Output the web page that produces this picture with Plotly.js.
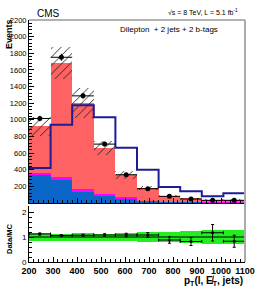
<!DOCTYPE html>
<html>
<head>
<meta charset="utf-8">
<script src="https://cdn.plot.ly/plotly-3.0.1.min.js"></script>
<style>html,body{margin:0;padding:0;background:#fff;}#chart{width:258px;height:290px;}</style>
</head>
<body>
<div id="chart"></div>
<script>
// ---- data ----
const binEdges = [200, 290, 380, 470, 560, 650, 740, 830, 920, 1010, 1100];
const bkgBlue    = [336, 280, 132, 85, 50, 22, 12, 8, 6, 6];
const bkgMagenta = [22, 32, 38, 22, 20, 8, 5, 4, 3, 3];
const bkgRed     = [566, 1368, 1030, 553, 270, 150, 71, 44, 31, 29];
const mcUnc      = [115, 190, 180, 80, 50, 25, 12, 8, 6, 6];
const signalLine = [420, 940, 1175, 1032, 665, 400, 192, 140, 80, 116];
const dataVals   = [1016, 1752, 1288, 708, 340, 172, 80, 48, 32, 32];
const dataErr    = [32, 42, 36, 27, 18, 13, 9, 7, 6, 6];
const ratioVals  = [1.12, 1.06, 1.07, 1.08, 1.08, 1.08, 0.88, 0.82, 1.17, 0.83];
const ratioErr   = [0.04, 0.03, 0.04, 0.05, 0.07, 0.10, 0.13, 0.16, 0.33, 0.24];
const ratioBand  = [0.15, 0.14, 0.15, 0.14, 0.17, 0.19, 0.21, 0.25, 0.28, 0.27];
const topTicks   = [200, 400, 600, 800, 1000, 1200, 1400, 1600, 1800, 2000, 2200];
const ratioTicks = [0, 1, 2];
const xTicks     = [200, 300, 400, 500, 600, 700, 800, 900, 1000, 1100];

// ---- derived ----
const n = bkgBlue.length;
const centers = [], widths = [];
for (let i = 0; i < n; i++) { centers.push((binEdges[i] + binEdges[i+1]) / 2); widths.push(binEdges[i+1] - binEdges[i]); }
const lvl1 = bkgBlue.slice();
const lvl2 = bkgBlue.map((v, i) => v + bkgMagenta[i]);
const total = lvl2.map((v, i) => v + bkgRed[i]);
const stepY = signalLine.concat([signalLine[n-1]]);
const halfW = widths.map(w => w / 2);

const FONT = 'Liberation Sans, Arial, Helvetica, sans-serif';

const traces = [
  {type:'bar', x:centers, y:total, width:widths, xaxis:'x2', yaxis:'y2', marker:{color:'#ff6262', line:{width:0}}, hoverinfo:'skip'},
  {type:'bar', x:centers, y:lvl2, width:widths, xaxis:'x2', yaxis:'y2', marker:{color:'#ff00ff', line:{width:0}}, hoverinfo:'skip'},
  {type:'bar', x:centers, y:lvl1, width:widths, xaxis:'x2', yaxis:'y2', marker:{color:'#0a66c8', line:{width:0}}, hoverinfo:'skip'},
  {type:'bar', x:centers, y:mcUnc.map(u => 2*u), base:total.map((t,i) => t - mcUnc[i]), width:widths, xaxis:'x2', yaxis:'y2',
   marker:{color:'rgba(0,0,0,0)', line:{width:0}, pattern:{shape:'/', fgcolor:'#222', bgcolor:'rgba(0,0,0,0)', size:6, solidity:0.15}}, hoverinfo:'skip'},
  {type:'scatter', mode:'lines', x:binEdges, y:stepY, xaxis:'x2', yaxis:'y2', line:{shape:'hv', color:'#1c1c96', width:2}, hoverinfo:'skip'},
  {type:'scatter', mode:'markers', x:centers, y:dataVals, xaxis:'x2', yaxis:'y2', marker:{color:'#000', size:5},
   error_y:{type:'data', array:dataErr, color:'#000', thickness:1, width:0},
   error_x:{type:'data', array:halfW, color:'#000', thickness:1, width:0}, hoverinfo:'skip'},
  // ratio panel
  {type:'bar', x:centers, y:ratioBand.map(b => 2*b), base:ratioBand.map(b => 1 - b), width:widths, xaxis:'x', yaxis:'y',
   marker:{color:'#22ee22', line:{width:0}}, hoverinfo:'skip'},
  {type:'scatter', mode:'markers', x:centers, y:ratioVals, xaxis:'x', yaxis:'y', marker:{color:'#000', size:3},
   error_y:{type:'data', array:ratioErr, color:'#000', thickness:1, width:1.5},
   error_x:{type:'data', array:halfW, color:'#000', thickness:1, width:1.5}, hoverinfo:'skip'}
];

const axisCommon = {showline:true, linecolor:'#000', linewidth:1, ticks:'inside', ticklen:5, tickcolor:'#000', tickwidth:1,
  showgrid:false, zeroline:false, fixedrange:true};

const layout = {
  width:258, height:290,
  margin:{l:29, r:13, t:20, b:28, pad:0},
  paper_bgcolor:'#fff', plot_bgcolor:'rgba(0,0,0,0)',
  showlegend:false, barmode:'overlay', bargap:0,
  font:{family:FONT, color:'#000', size:8},
  xaxis: Object.assign({}, axisCommon, {domain:[0,1], range:[200,1100], anchor:'y', tickmode:'array', tickvals:xTicks,
    tickfont:{size:9, family:FONT, weight:'bold'}, minor:{tickmode:'linear', tick0:200, dtick:20, ticklen:3, ticks:'inside', tickcolor:'#000'}}),
  yaxis: Object.assign({}, axisCommon, {domain:[0,0.2314], range:[0,2.24], anchor:'x', tickmode:'array', tickvals:ratioTicks,
    tickfont:{size:8, family:FONT}, minor:{tickmode:'linear', tick0:0, dtick:0.2, ticklen:3, ticks:'inside', tickcolor:'#000'}}),
  xaxis2: Object.assign({}, axisCommon, {domain:[0,1], range:[200,1100], anchor:'y2', matches:'x', showticklabels:false, tickmode:'array', tickvals:xTicks,
    minor:{tickmode:'linear', tick0:200, dtick:20, ticklen:3, ticks:'inside', tickcolor:'#000'}}),
  yaxis2: Object.assign({}, axisCommon, {domain:[0.2438,1], range:[0,2200], anchor:'x2', tickmode:'array', tickvals:topTicks,
    tickfont:{size:7.5, family:FONT}, minor:{tickmode:'linear', tick0:0, dtick:40, ticklen:3, ticks:'inside', tickcolor:'#000'}}),
  shapes:[
    {type:'line', xref:'x domain', yref:'y', x0:0, x1:1, y0:1, y1:1, line:{color:'#000', width:1}},
    {type:'line', xref:'paper', yref:'paper', x0:0, x1:1, y0:1, y1:1, line:{color:'#999', width:1.5}},
    {type:'line', xref:'paper', yref:'paper', x0:1, x1:1, y0:0, y1:1, line:{color:'#aaa', width:2}}
  ],
  annotations:[
    {text:'CMS', xref:'paper', yref:'paper', x:0.028, y:1.0248, xanchor:'left', yanchor:'middle', showarrow:false, font:{size:10, family:FONT}},
    {text:'√s = 8 TeV, L = 5.1 fb<sup>-1</sup>', xref:'paper', yref:'paper', x:0.977, y:1.031, xanchor:'right', yanchor:'middle', showarrow:false, font:{size:7, family:FONT}},
    {text:'Dilepton  + 2 jets + 2 b-tags', xref:'paper', yref:'paper', x:0.412, y:0.9587, xanchor:'left', yanchor:'middle', showarrow:false, font:{size:8, family:FONT}},
    {text:'<b>Events</b>', xref:'paper', yref:'paper', x:-0.0926, y:1.012, xanchor:'center', yanchor:'top', textangle:-90, showarrow:false, font:{size:9, family:FONT}},
    {text:'<b>Data/MC</b>', xref:'paper', yref:'paper', x:-0.0926, y:0.099, xanchor:'center', yanchor:'middle', textangle:-90, showarrow:false, font:{size:7.5, family:FONT}},
    {text:'<b>p<sub>T</sub>(l, E̸<sub>T</sub>, jets)</b>', xref:'paper', yref:'paper', x:1.0, y:-0.08, xanchor:'right', yanchor:'middle', showarrow:false, font:{size:10, family:FONT}}
  ]
};

Plotly.newPlot('chart', traces, layout, {staticPlot:true, displayModeBar:false});
</script>
</body>
</html>
